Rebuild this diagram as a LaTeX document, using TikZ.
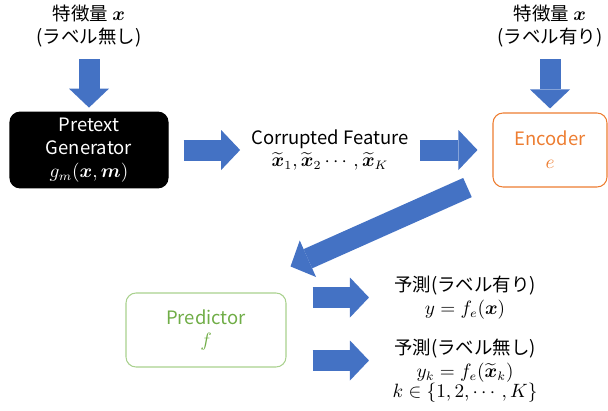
\documentclass[tikz,border=0pt]{standalone}
\usepackage{amsmath}
\usepackage{fontspec}
\setmainfont{Noto Sans CJK JP}
\usetikzlibrary{arrows.meta}

\definecolor{arrowblue}{RGB}{68,114,196}
\definecolor{encorange}{RGB}{237,125,49}
\definecolor{predgreen}{RGB}{112,173,71}
\definecolor{predline}{RGB}{169,209,142}

\begin{document}
\begin{tikzpicture}[font=\fontsize{10.5}{13}\selectfont,
	bigarrow/.style={draw=arrowblue, line width=0.42cm, -{Triangle[length=0.38cm, width=0.8cm, line width=0pt]}},
	box/.style={rectangle, draw, line width=0.6pt, rounded corners=0.2cm, minimum height=1.48cm, align=center}]

		\useasboundingbox (0,0) rectangle (12.16,-8.2);

		\node[align=center] (inx) at (1.78,-0.52) {特徴量 $\boldsymbol{x}$\\(ラベル無し)};
		\node[align=center] (inxl) at (11.0,-0.52) {特徴量 $\boldsymbol{x}$\\(ラベル有り)};

		\node[box, fill=black, text=white, minimum width=3.16cm] (gen) at (1.78,-3.0) {Pretext\\Generator\\$g_m(\boldsymbol{x},\boldsymbol{m})$};
		\node[align=center] (corr) at (6.6,-3.0) {Corrupted Feature\\$\widetilde{\boldsymbol{x}}_1,\widetilde{\boldsymbol{x}}_2\cdots,\widetilde{\boldsymbol{x}}_K$};
		\node[box, draw=encorange, text=encorange, minimum width=2.28cm] (enc) at (11.0,-3.0) {Encoder\\$e$};

		\node[box, draw=predline, text=predgreen, minimum width=3.2cm] (pred) at (4.12,-6.6) {Predictor\\$f$};
		\node[align=center] (outl) at (9.3,-5.95) {予測(ラベル有り)\\$y=f_e(\boldsymbol{x})$};
		\node[align=center] (outu) at (9.3,-7.21) {予測(ラベル無し)\\$y_k=f_e(\widetilde{\boldsymbol{x}}_k)$};
		\node (kset) at (9.3,-7.86) {$k\in\{1,2,\cdots,K\}$};

		\draw[bigarrow] ([yshift=-0.12cm]inx.south) -- ([yshift=0.08cm]gen.north);
		\draw[bigarrow] ([yshift=-0.12cm]inxl.south) -- ([yshift=0.08cm]enc.north);
		\draw[bigarrow] ([xshift=0.3cm]gen.east) -- ([xshift=-0.1cm]corr.west);
		\draw[bigarrow] ([xshift=0.1cm]corr.east) -- ([xshift=-0.3cm]enc.west);
		\draw[bigarrow] ([xshift=-0.5cm]enc.south west) -- ([xshift=0.08cm,yshift=0.52cm]pred.north east);
		\draw[bigarrow] ([xshift=0.52cm]pred.east |- outl.west) -- ([xshift=-0.38cm]outl.west);
		\draw[bigarrow] ([xshift=0.52cm]pred.east |- outu.west) -- ([xshift=-0.38cm]outu.west);
    \end{tikzpicture}
\end{document}
